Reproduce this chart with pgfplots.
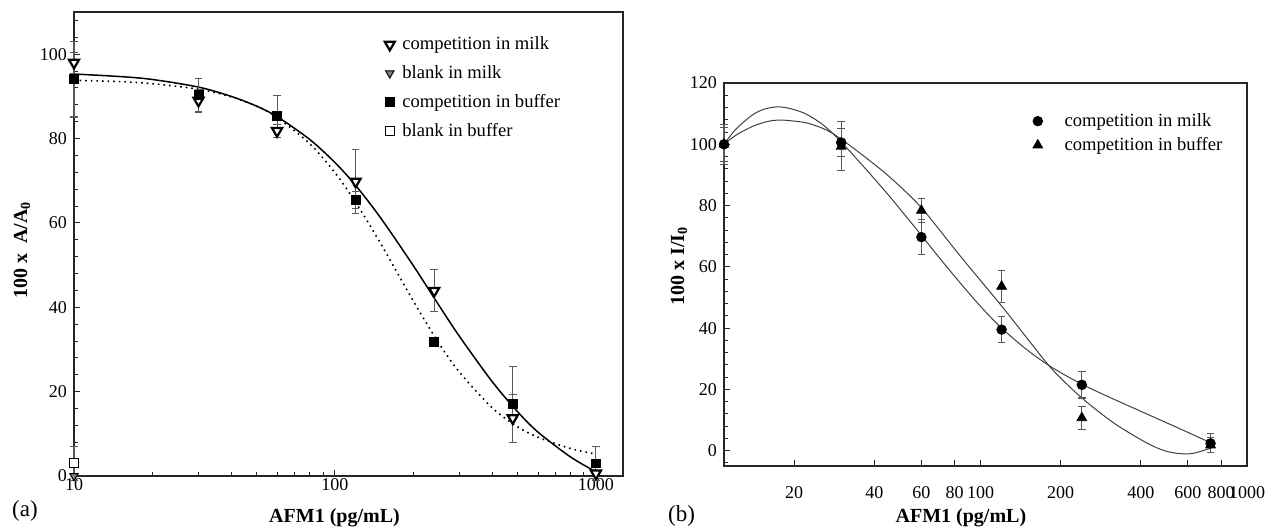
\documentclass[border=0pt]{standalone}
\usepackage{fontspec}
\setmainfont{Liberation Serif}
\usepackage{pgfplots}
\usepackage{pgfplotstable}
\pgfplotsset{compat=1.18}

% ---------- panel (a) data ----------
\pgfplotstableread{
x y e
10 98 2.5
30 89 2.5
60 81.8 1.5
120 69.8 7.5
240 43.9 5
480 13.7 5.7
1000 0.6 0
}\milkA
\pgfplotstableread{
x y e
10 0 0
}\blankmilkA
\pgfplotstableread{
x y e
10 94.1 9
30 90.3 4
60 85.3 5
120 65.5 2
240 31.8 0
480 17 9
1000 3 4
}\bufA
\pgfplotstableread{
x y e
10 3 4
}\blankbufA
% ---------- panel (b) data ----------
\pgfplotstableread{
x y e
10.9 100 5.5
30 100.6 4.6
60 69.7 5.8
120 39.5 4.3
240 21.5 4.3
730 2.4 3.1
}\milkB
\pgfplotstableread{
x y e
10.9 100 6.5
30 99.3 8
60 78.4 4
120 53.6 5.1
240 10.7 3.7
730 1.8 2.5
}\bufB

\pgfplotsset{
  myaxis/.style={
    scale only axis, clip=false,
    axis line style={line width=0.6pt, black!85},
    tick align=inside, tick pos=left,
    major tick length=3pt, minor tick length=1.8pt,
    every tick/.style={black!85, line width=0.5pt},
    tick label style={font=\fontsize{9}{10}\selectfont},
    label style={font=\fontsize{10}{12}\selectfont\bfseries},
    legend cell align=left,
  },
  eb/.style={error bars/y dir=both, error bars/y explicit,
    error bars/error mark=|,
    error bars/error bar style={black!65, line width=0.55pt},
    error bars/error mark options={black!65, mark size=1.9pt, line width=0.55pt}},
  legA/.style={only marks, legend image code/.code={\path[draw=none, fill=none] (0cm,0cm) rectangle (0.3cm,0.01cm); \draw[##1] plot coordinates {(0.15cm,0cm)};}},
  legB/.style={only marks, legend image code/.code={\path[draw=none, fill=none] (0cm,0cm) rectangle (0.6cm,0.01cm); \draw[##1] plot coordinates {(0.2cm,0cm)};}},
}

\begin{document}
\begin{tikzpicture}
\path[use as bounding box] (0,0) rectangle (640.5pt,263.5pt);

% ================= panel (a) =================
\begin{axis}[myaxis,
  at={(37pt,25.5pt)}, anchor=south west,
  width=274.5pt, height=232pt,
  xmode=log, xmin=10, xmax=1270, ymin=0, ymax=110,
  xtick={10,100,1000}, xticklabels={10,100,1000},
  xticklabel style={yshift=2.5pt},
  minor xtick={20,30,40,50,60,70,80,90,200,300,400,500,600,700,800,900},
  ytick={0,20,40,60,80,100}, yticklabels={0,20,40,60,80,100},
  minor ytick={4,8,...,108},
  xlabel={AFM1 (pg/mL)},
  xlabel style={at={(axis description cs:0.4745,0)}, anchor=base, yshift=-23pt},
  ylabel={100 x\ \ A/A\textsubscript{0}},
  ylabel style={at={(axis description cs:-0.0947,0.487)}, anchor=center},
  legend style={draw=none, fill=none, at={(axis description cs:0.548,0.965)}, anchor=north west,
    font=\fontsize{9.3}{11}\selectfont, row sep=2.4pt},
]
\addplot[forget plot, black, line width=0.75pt, smooth] coordinates {
(10,95.3) (15,94.7) (20,94.0) (30,92.2) (40,90.0) (50,87.7) (60,85.2) (80,79.8)
(100,74.3) (120,68.9) (150,61.1) (200,49.8) (250,40.5) (300,33.1) (400,22.4)
(500,15.3) (600,10.4) (800,4.5) (1000,1.0)};
\addplot[forget plot, black, line width=0.8pt, dotted, smooth] coordinates {
(10,93.8) (15,93.5) (20,93.0) (30,91.7) (40,89.9) (50,87.7) (60,85.0) (80,78.8)
(100,71.9) (120,64.9) (150,55.0) (200,41.4) (250,31.5) (300,24.6) (400,16.2)
(500,11.7) (600,9.2) (800,6.5) (1000,5.2)};

\addplot[legA, eb, mark=triangle*, mark size=2.9pt,
  mark options={rotate=180, fill=white, draw=black, line width=1.1pt}]
  table[x=x, y=y, y error=e] {\milkA};
\addlegendentry{competition in milk}
\addplot[legA, mark=triangle*, mark size=2.4pt,
  mark options={rotate=180, fill=gray, draw=black, line width=0.5pt}]
  table[x=x, y=y] {\blankmilkA};
\addlegendentry{blank in milk}
\addplot[legA, eb, mark=square*, mark size=2.2pt,
  mark options={fill=black, draw=black}]
  table[x=x, y=y, y error=e] {\bufA};
\addlegendentry{competition in buffer}
\addplot[legA, eb, mark=square*, mark size=2.2pt,
  mark options={fill=white, draw=black, line width=0.5pt}]
  table[x=x, y=y, y error=e] {\blankbufA};
\addlegendentry{blank in buffer}
\end{axis}

% ================= panel (b) =================
\begin{axis}[myaxis,
  at={(362pt,30.5pt)}, anchor=south west,
  width=261.5pt, height=191.5pt,
  xmode=log, xmin=10.9, xmax=1000, ymin=-5, ymax=120,
  xtick={20,40,60,80,100,200,400,600,800,1000},
  xticklabels={20,40,60,80,100,200,400,600,800,1000},
  xticklabel style={yshift=-6.5pt},
  ytick={0,20,40,60,80,100,120}, yticklabels={0,20,40,60,80,100,120},
  minor ytick={-4,0,...,120},
  xlabel={AFM1 (pg/mL)},
  xlabel style={at={(axis description cs:0.453,0)}, anchor=base, yshift=-28pt},
  ylabel={100 x I/I\textsubscript{0}},
  ylabel style={at={(axis description cs:-0.086,0.522)}, anchor=center},
  legend style={draw=none, fill=none, at={(axis description cs:0.566,0.943)}, anchor=north west,
    font=\fontsize{9.3}{11}\selectfont, row sep=0pt},
]
\addplot[forget plot, black!75, line width=0.5pt, smooth] coordinates {
(10.9,100) (12.1,105.0) (14,109.7) (15.5,111.5) (17.2,112.2) (19,111.8) (21.6,110.3)
(24,108.1) (26.5,105.3) (30,100.8) (35,94.4) (40,88.7) (47,81.6) (60,70.3) (70,63.0)
(84,54.7) (100,47.1) (120,40.0) (150,32.8) (186,27.1) (240,21.7) (320,16.6)
(423,11.9) (565,7.0) (730,2.6)};
\addplot[forget plot, black!75, line width=0.5pt, smooth] coordinates {
(10.9,100) (12.1,103.0) (14,105.9) (16,107.5) (18,107.9) (21.6,107.2) (24,106.1)
(26.5,104.6) (30,101.7) (38.6,94.5) (46.6,88.6) (60,79.3) (84,63.5) (119,47.6)
(154,35.3) (186,26.5) (240,17.2) (318,8.9) (423,2.4) (490,0.0) (550,-0.9)
(610,-1.0) (654,-0.5) (730,0.8)};

\addplot[legB, eb, mark=*, mark size=2.4pt, mark options={fill=black, draw=black}]
  table[x=x, y=y, y error=e] {\milkB};
\addlegendentry{competition in milk}
\addplot[legB, eb, mark=triangle*, mark size=2.8pt, mark options={fill=black, draw=black}]
  table[x=x, y=y, y error=e] {\bufB};
\addlegendentry{competition in buffer}
\end{axis}

\node[font=\fontsize{11.5}{13}\selectfont] at (12.5pt,8pt) {(a)};
\node[font=\fontsize{11.5}{13}\selectfont] at (340.75pt,5.5pt) {(b)};
\end{tikzpicture}
\end{document}
